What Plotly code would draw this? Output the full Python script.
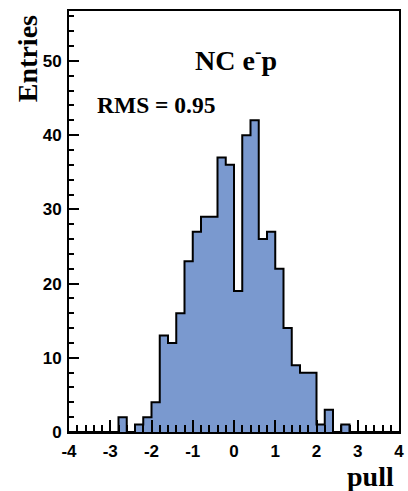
import plotly.graph_objects as go

# Histogram: 40 bins of width 0.2 from -4 to 4
bin_lo = -4.0
bin_width = 0.2
counts = [0, 0, 0, 0, 0, 0, 2, 0, 1, 2,
          4, 13, 12, 16, 23, 27, 29, 29, 37, 36,
          19, 40, 42, 26, 27, 22, 14, 9, 8, 8,
          1, 3, 0, 1, 0, 0, 0, 0, 0, 0]
edges = [bin_lo + bin_width * i for i in range(len(counts) + 1)]
x_tickvals = [-4, -3, -2, -1, 0, 1, 2, 3, 4]
y_tickvals = [0, 10, 20, 30, 40, 50]

fill_color = "rgb(122,153,207)"

fig = go.Figure()
fig.add_trace(go.Scatter(
    x=edges,
    y=counts + [counts[-1]],
    mode="lines",
    line=dict(shape="hv", color="black", width=2),
    fill="tozeroy",
    fillcolor=fill_color,
    hoverinfo="skip",
    showlegend=False,
))

L, R, T, B = 69, 4, 11, 59
W, H = 408, 491
pw = W - L - R
ph = H - T - B

def px(x):
    return (x - L) / pw

def py(y):
    return (H - B - y) / ph

tickfont = dict(family="Liberation Sans, Arial, sans-serif", size=17, color="black", weight="bold")
serif = "Liberation Serif, Times New Roman, serif"

fig.update_layout(
    width=W, height=H,
    margin=dict(l=L, r=R, t=T, b=B),
    paper_bgcolor="white",
    plot_bgcolor="white",
    xaxis=dict(
        range=[-4, 4],
        tickvals=x_tickvals,
        ticktext=[str(v) for v in x_tickvals],
        ticks="inside", ticklen=12, tickwidth=2, tickcolor="black",
        minor=dict(dtick=0.2, ticks="inside", ticklen=7, tickwidth=2, tickcolor="black"),
        showline=True, linewidth=2, linecolor="black", mirror=True,
        showgrid=False, zeroline=False,
        tickfont=tickfont,
        ticklabelstandoff=3,
    ),
    yaxis=dict(
        range=[0, 56.73],
        tickvals=y_tickvals,
        ticktext=[str(v) for v in y_tickvals],
        ticks="inside", ticklen=10, tickwidth=2, tickcolor="black",
        minor=dict(dtick=2, ticks="inside", ticklen=5, tickwidth=2, tickcolor="black"),
        showline=True, linewidth=2, linecolor="black", mirror=True,
        showgrid=False, zeroline=False,
        tickfont=tickfont,
        ticklabelstandoff=2,
    ),
    annotations=[
        dict(text="Entries", xref="paper", yref="paper", x=px(27), y=py(58.5),
             textangle=-90, showarrow=False, xanchor="center", yanchor="middle",
             font=dict(family=serif, size=28, color="black", weight="bold")),
        dict(text="pull", xref="paper", yref="paper", x=px(401), y=py(477),
             showarrow=False, xanchor="right", yanchor="middle",
             font=dict(family=serif, size=28, color="black", weight="bold")),
        dict(text="NC e<sup>-</sup>p", xref="paper", yref="paper", x=px(239), y=py(58),
             showarrow=False, xanchor="center", yanchor="middle",
             font=dict(family=serif, size=28, color="black", weight="bold")),
        dict(text="RMS = 0.95", xref="paper", yref="paper", x=px(95), y=py(105),
             showarrow=False, xanchor="left", yanchor="middle",
             font=dict(family=serif, size=23.5, color="black", weight="bold")),
    ],
)

fig.write_html("out.html")
